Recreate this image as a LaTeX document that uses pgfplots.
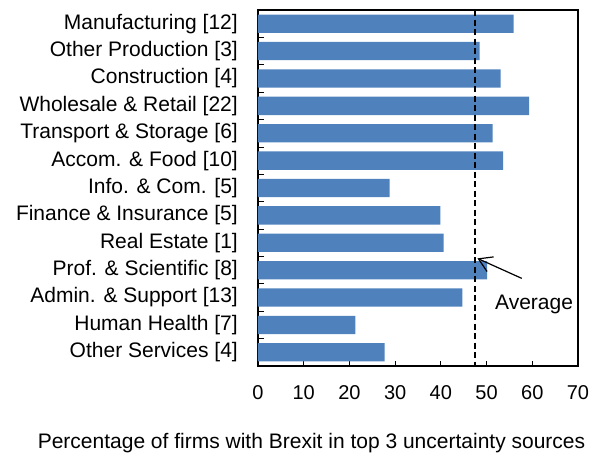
\documentclass[border=0pt]{standalone}
\usepackage{fontspec}
\setmainfont{Liberation Sans}
\usepackage{pgfplots}
\pgfplotsset{compat=1.18}
\usetikzlibrary{arrows.meta}
\definecolor{barblue}{HTML}{4F81BD}
\begin{document}
\fontsize{21bp}{25bp}\selectfont
\begin{tikzpicture}
\useasboundingbox (-258bp,-89bp) rectangle (339bp,366bp);
\begin{axis}[
  at={(0,0)}, anchor=south west,
  scale only axis, width=320bp, height=356bp,
  xmin=0, xmax=70, ymin=-0.5, ymax=12.5,
  y dir=reverse,
  xtick={0,10,...,70},
  ytick={0,...,12},
  minor ytick={0.5,1.5,...,11.5},
  yticklabels={Manufacturing [12], Other Production [3], Construction [4], Wholesale \& Retail [22], Transport \& Storage [6], Accom. \& Food [10], Info. \& Com. [5], Finance \& Insurance [5], Real Estate [1], Prof. \& Scientific [8], Admin. \& Support [13], Human Health [7], Other Services [4]},
  tick align=inside,
  xtick pos=bottom, ytick pos=left,
  major x tick style={black, line width=0.8bp},
  major tick length=5bp,
  major y tick style={draw=none},
  minor y tick style={black, line width=0.8bp},
  minor tick length=6bp,
  axis line style={black, line width=1.3bp},
  /pgf/number format/assume math mode=true,
  yticklabel style={inner sep=0pt, anchor=east, xshift=-20bp},
  xticklabel style={inner sep=0pt, anchor=north, yshift=-19bp, font=\fontsize{20bp}{24bp}\selectfont},
  xlabel={Percentage of firms with Brexit in top 3 uncertainty sources},
  xlabel style={at={(axis description cs:0.5,0)}, anchor=base, xshift=-106.5bp, yshift=-82.5bp, inner sep=0pt},
  clip=false,
]
\addplot[xbar, bar width=18.3bp, bar shift=0pt, fill=barblue, draw=none] coordinates {
  (55.9,0) (48.5,1) (53.1,2) (59.3,3) (51.3,4) (53.6,5) (28.8,6)
  (39.9,7) (40.6,8) (50.1,9) (44.7,10) (21.3,11) (27.7,12)
};
\addplot[black, line width=1.3bp, dash pattern=on 6bp off 3.5bp, mark=none] coordinates {(47.5,-0.5) (47.5,12.5)};
\draw[black, line width=1.2bp, -{Straight Barb[length=13bp, width=16bp, line width=1.2bp]}] (axis cs:57.7,9.30) -- (axis cs:48.0,8.57);
\node[anchor=center, inner sep=0pt] at (axis cs:60.4,10.25) {Average};
\end{axis}
\end{tikzpicture}
\end{document}
